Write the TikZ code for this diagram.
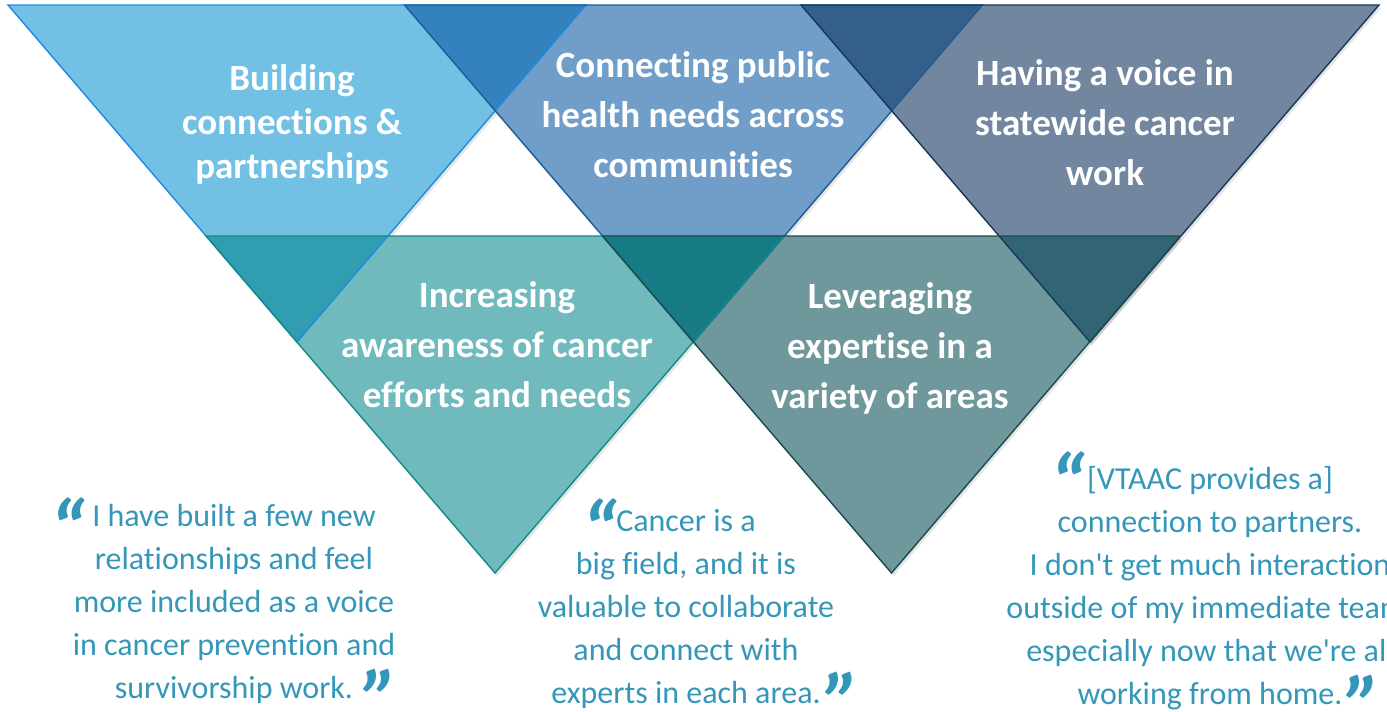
\documentclass[tikz,border=0pt]{standalone}
\usepackage{fontspec}
\setmainfont{Carlito}[Ligatures=NoCommon]
\usetikzlibrary{calc}

\definecolor{skyfill}{HTML}{72C0E4}
\definecolor{skyline}{HTML}{1C8BE3}
\definecolor{bluefill}{HTML}{709EC8}
\definecolor{blueline}{HTML}{1F5B96}
\definecolor{slatefill}{HTML}{72879F}
\definecolor{slateline}{HTML}{15385B}
\definecolor{tealfill}{HTML}{70BABD}
\definecolor{tealline}{HTML}{0F8C87}
\definecolor{sagefill}{HTML}{6E989C}
\definecolor{sageline}{HTML}{1A4B50}
\definecolor{skyblue}{HTML}{3382BD}
\definecolor{blueslate}{HTML}{335F8A}
\definecolor{skyteal}{HTML}{309EB0}
\definecolor{deepteal}{HTML}{167B85}
\definecolor{slatesage}{HTML}{326573}
\definecolor{quotecol}{HTML}{3497B9}

\newcommand{\qmarkfont}{\bfseries\itshape\fontsize{84}{84}\selectfont}
\newcommand{\qopen}[2]{\llap{\smash{\raisebox{#1}{\qmarkfont “}}\hspace{#2}}}
\newcommand{\qclose}[2]{\rlap{\hspace{#2}\smash{\raisebox{#1}{\qmarkfont ”}}}}

\tikzset{
	tri/.style={line width=1.4pt, line join=miter},
	headtext/.style={text=white, font=\bfseries\fontsize{37}{50}\selectfont, align=center, inner sep=0pt},
	quotetext/.style={text=quotecol, font=\fontsize{32}{43}\selectfont, align=center, inner sep=0pt}
}

\begin{document}
\begin{tikzpicture}[x=1pt, y=-1pt]
	\useasboundingbox (0,0) rectangle (1387,712);
	\clip (0,0) rectangle (1387,712);
	
	% soft shadows
	\fill[black, opacity=0.10] (10,8) -- (588,8) -- (299,345) -- cycle;
	\fill[black, opacity=0.10] (406.5,8) -- (984.5,8) -- (695.5,345) -- cycle;
	\fill[black, opacity=0.10] (803,8) -- (1381,8) -- (1092,345) -- cycle;
	\fill[black, opacity=0.10] (208,239) -- (786,239) -- (497,576) -- cycle;
	\fill[black, opacity=0.10] (604.5,239) -- (1182.5,239) -- (893.5,576) -- cycle;
	
	% top row
	\fill[skyfill] (8,5) -- (586,5) -- (297,342) -- cycle;
	\fill[bluefill] (404.5,5) -- (982.5,5) -- (693.5,342) -- cycle;
	\fill[slatefill] (801,5) -- (1379,5) -- (1090,342) -- cycle;
	
	% bottom row
	\fill[tealfill] (206,236) -- (784,236) -- (495,573) -- cycle;
	\fill[sagefill] (602.5,236) -- (1180.5,236) -- (891.5,573) -- cycle;
	
	% overlaps
	\fill[skyblue] (404.5,5) -- (586,5) -- (495.25,110.8) -- cycle;
	\fill[blueslate] (801,5) -- (982.5,5) -- (891.75,110.8) -- cycle;
	\fill[skyteal] (206,236) -- (388,236) -- (297,342) -- cycle;
	\fill[deepteal] (602.5,236) -- (784,236) -- (693.5,342) -- cycle;
	\fill[slatesage] (999,236) -- (1180.5,236) -- (1090,342) -- cycle;
	
	% outlines
	\draw[tri, skyline] (8,5) -- (586,5) -- (297,342) -- cycle;
	\draw[tri, blueline] (404.5,5) -- (982.5,5) -- (693.5,342) -- cycle;
	\draw[tri, slateline] (801,5) -- (1379,5) -- (1090,342) -- cycle;
	\draw[tri, tealline] (206,236) -- (784,236) -- (495,573) -- cycle;
	\draw[tri, sageline] (602.5,236) -- (1180.5,236) -- (891.5,573) -- cycle;
	
	\node[headtext, font=\bfseries\fontsize{37}{44}\selectfont] (build) at (292,124) {Building\\connections \&\\partnerships};
	
	\node[headtext] (connect) at (693,115) {Connecting public\\health needs across\\communities};
	
	\node[headtext] (voice) at (1105,123) {Having a voice in\\statewide cancer\\work};
	
	\node[headtext] (aware) at (497,344.5) {Increasing\\awareness of cancer\\efforts and needs};
	
	\node[headtext] (leverage) at (890,348) {Leveraging\\expertise in a\\variety of areas};
	
	% quotes
	\node[quotetext] (quoteA) at (234,604) {\qopen{-33pt}{6pt}I have built a few new\\relationships and feel\\more included as a voice\\in cancer prevention and\\survivorship work.\qclose{-31pt}{9pt}};
	
	\node[quotetext] (quoteB) at (686,609) {\qopen{-29pt}{-2pt}Cancer is a\\big field, and it is\\valuable to collaborate\\and connect with\\experts in each area.\qclose{-29pt}{4pt}};
	
	\node[quotetext] (quoteC) at (1210,588) {\qopen{-24pt}{1pt}[VTAAC provides a]\\connection to partners.\\I don\textquotesingle t get much interaction\\outside of my immediate team,\\especially now that we\textquotesingle re all\\working from home.\qclose{-31pt}{3pt}};
	
\end{tikzpicture}
\end{document}
